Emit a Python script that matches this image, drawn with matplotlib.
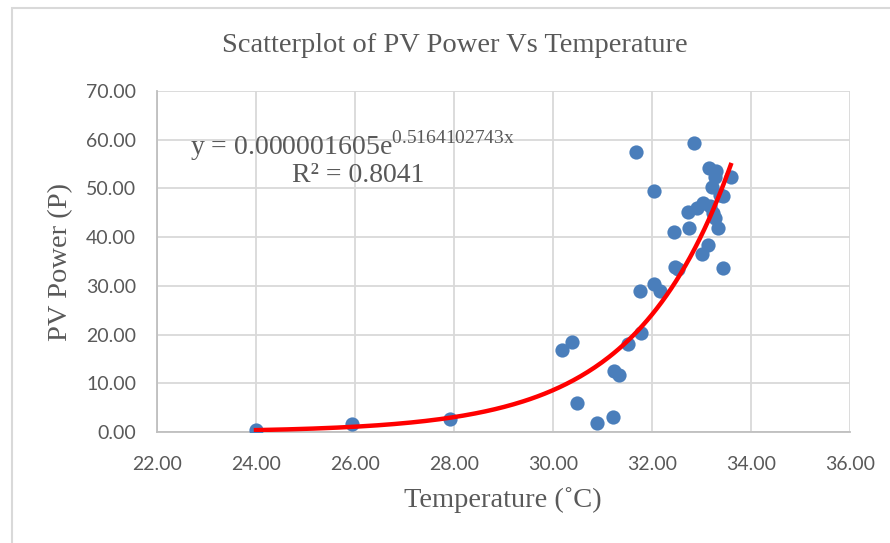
"""
Scatterplot of PV power against temperature with an exponential trendline
"""

import numpy as np
import matplotlib.pyplot as plt
from matplotlib.patches import Rectangle

temperature = [24.00, 25.93, 27.92, 30.18, 30.38, 30.48, 30.88, 31.21, 31.23, 31.33,
               31.52, 31.77, 31.67, 31.76, 32.05, 32.16, 32.05, 32.44, 32.46, 32.53,
               32.75, 32.73, 32.85, 32.90, 33.00, 33.04, 33.14, 33.16, 33.18, 33.21,
               33.24, 33.27, 33.30, 33.34, 33.38, 33.27, 33.43, 33.44, 33.59]

power = [0.5, 1.6, 2.7, 16.8, 18.5, 5.9, 1.9, 3.0, 12.6, 11.8,
         18.1, 20.4, 57.4, 28.9, 30.3, 28.9, 49.5, 41.0, 33.9, 33.4,
         41.8, 45.2, 59.4, 45.9, 36.6, 47.0, 38.4, 54.1, 46.3, 50.2,
         44.9, 43.9, 53.6, 41.8, 48.7, 52.4, 33.6, 48.4, 52.4]

# exponential trendline coefficients (as reported by the chart)
fit_a = 0.000001605
fit_b = 0.5164102743

x_ticks = [22, 24, 26, 28, 30, 32, 34, 36]
y_ticks = [0, 10, 20, 30, 40, 50, 60, 70]

plt.rcParams['mathtext.fontset'] = 'custom'
plt.rcParams['mathtext.rm'] = 'Liberation Serif'

serif = 'Liberation Serif'
grey = '#595959'

fig = plt.figure(figsize=(8.9, 5.43), dpi=100)
ax = fig.add_axes([157/890, 1 - 432/543, (850 - 157)/890, (432 - 91)/543])

# chart area border
fig.patches.append(Rectangle((12/890, -0.05), 1.2, 1 - 8/543 + 0.05, transform=fig.transFigure,
                             fill=False, edgecolor='#d9d9d9', lw=1.5))

ax.scatter(temperature, power, s=105, color='#4a7ebb', zorder=3, linewidths=0)

xs = np.linspace(min(temperature), max(temperature), 200)
ax.plot(xs, fit_a * np.exp(fit_b * xs), color='#ff0000', lw=3.2, zorder=4)

ax.set_xlim(22, 36)
ax.set_ylim(0, 70)
ax.set_xticks(x_ticks)
ax.set_yticks(y_ticks)
ax.set_xticklabels([f"{t:.2f}" for t in x_ticks], fontfamily='Lato', fontsize=14, color=grey)
ax.set_yticklabels([f"{t:.2f}" for t in y_ticks], fontfamily='Lato', fontsize=14, color=grey)
ax.tick_params(axis='y', length=0, pad=15)
ax.tick_params(axis='x', length=0, pad=17)

ax.grid(True, color='#d9d9d9', lw=1.3)
ax.set_axisbelow(True)
for side in ['top', 'right']:
    ax.spines[side].set_visible(False)
for side in ['left', 'bottom']:
    ax.spines[side].set_color('#bfbfbf')
    ax.spines[side].set_linewidth(1.3)

fig.text(455/890, 1 - 46/543, 'Scatterplot of PV Power Vs Temperature', ha='center', va='center',
         fontfamily=serif, fontsize=20.5, color=grey)
fig.text(503/890, 1 - 500/543, 'Temperature (˚C)', ha='center', va='center',
         fontfamily=serif, fontsize=20.5, color=grey)
fig.text(61/890, 1 - 262/543, 'PV Power (P)', ha='center', va='center', rotation=90,
         fontfamily=serif, fontsize=20.5, color=grey)

fig.text(190/890, 1 - 146/543, r'y = 0.000001605e$^{\mathrm{0.5164102743x}}$', ha='left', va='center',
         fontfamily=serif, fontsize=20, color=grey)
fig.text(358/890, 1 - 175/543, 'R² = 0.8041', ha='center', va='center',
         fontfamily=serif, fontsize=20, color=grey)

plt.savefig('out.png', dpi=100)
